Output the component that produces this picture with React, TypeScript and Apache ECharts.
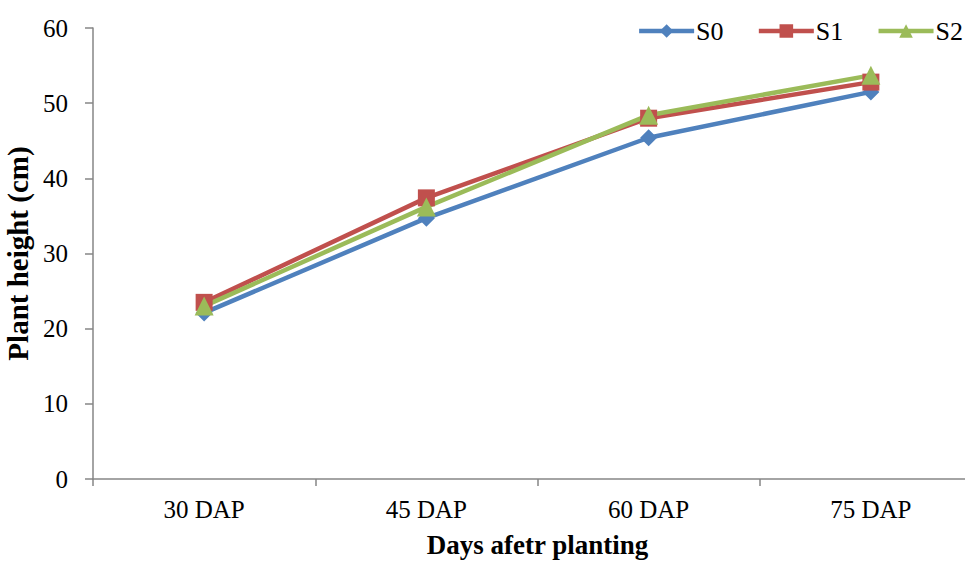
import React, { useEffect, useRef } from "react";
import * as echarts from "echarts";

const categories = ["30 DAP", "45 DAP", "60 DAP", "75 DAP"];
const s0 = [22.1, 34.7, 45.4, 51.5];
const s1 = [23.5, 37.4, 48.0, 52.8];
const s2 = [23.0, 36.2, 48.4, 53.7];
const seriesNames = ["S0", "S1", "S2"];
const colors = ["#4F81BD", "#C0504D", "#9BBB59"];
const symbols = ["diamond", "rect", "triangle"];

const FONT = "'Liberation Serif', 'Times New Roman', serif";

export default function App() {
  const ref = useRef<HTMLDivElement>(null);
  useEffect(() => {
    if (!ref.current) return;
    const chart = echarts.init(ref.current, null, { renderer: "svg" });
    const data = [s0, s1, s2];
    chart.setOption({
      animation: false,
      backgroundColor: "#ffffff",
      textStyle: { fontFamily: FONT },
      grid: { left: 93, right: -17, top: 28, bottom: 82, containLabel: false, outerBoundsMode: "none" },
      legend: {
        right: -3,
        top: 13,
        itemWidth: 55,
        itemHeight: 17,
        itemGap: 33,
        lineStyle: { width: 4.5 },
        textStyle: { fontFamily: FONT, fontSize: 26, color: "#000", padding: [0, 0, 0, -3] },
        data: seriesNames,
      },
      xAxis: {
        type: "category",
        data: categories,
        boundaryGap: true,
        axisLine: { lineStyle: { color: "#868686", width: 1.5 } },
        axisTick: { show: true, length: 7, lineStyle: { color: "#868686", width: 1.5 } },
        axisLabel: { fontFamily: FONT, fontSize: 25, color: "#000", margin: 18 },
        name: "Days afetr planting",
        nameLocation: "middle",
        nameGap: 52,
        nameTextStyle: { fontFamily: FONT, fontSize: 27, fontWeight: "bold", color: "#000" },
      },
      yAxis: {
        type: "value",
        min: 0,
        max: 60,
        interval: 10,
        splitLine: { show: false },
        axisLine: { show: true, lineStyle: { color: "#868686", width: 1.5 } },
        axisTick: { show: true, length: 8, lineStyle: { color: "#868686", width: 1.5 } },
        axisLabel: { fontFamily: FONT, fontSize: 25, color: "#000", margin: 25 },
        name: "Plant height (cm)",
        nameLocation: "middle",
        nameGap: 56,
        nameTextStyle: { fontFamily: FONT, fontSize: 29, fontWeight: "bold", color: "#000" },
      },
      series: seriesNames.map((n, i) => ({
        name: n,
        type: "line",
        data: data[i],
        symbol: symbols[i],
        symbolSize: i === 0 ? 17 : i === 1 ? 17 : 19,
        showAllSymbol: true,
        itemStyle: { color: colors[i] },
        lineStyle: { color: colors[i], width: 4.5 },
      })),
    });
    return () => chart.dispose();
  }, []);
  return <div ref={ref} style={{ width: 965, height: 561, position: "absolute", left: 0, top: 0 }} />;
}
